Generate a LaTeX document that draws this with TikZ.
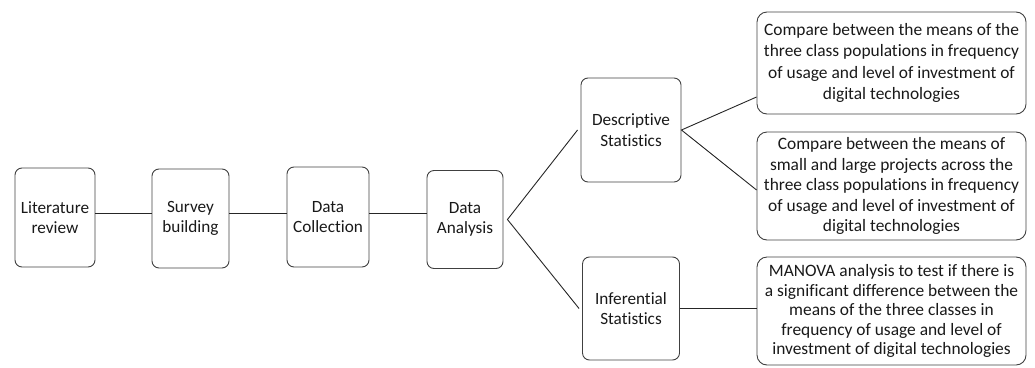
\documentclass[tikz,border=0pt]{standalone}
\usepackage{fontspec}
\setmainfont{Carlito}[Ligatures=NoCommon]
\begin{document}
\begin{tikzpicture}[x=1pt,y=-1pt,
  stage/.style={draw=black!75, line width=0.9pt, rounded corners=7pt, inner sep=0pt,
    align=center, text=black!90, font=\fontsize{17.2}{20.5}\selectfont},
  detail/.style={stage, rounded corners=10pt, minimum width=269pt},
  link/.style={draw=black!85, line width=0.9pt}]
  \useasboundingbox (0,0) rectangle (1035,367);

  % main process chain
  \node[stage, minimum width=80pt, minimum height=99pt]  (lit)      at (55,217.5)  {Literature\\review};
  \node[stage, minimum width=77pt, minimum height=99pt]  (survey)   at (190.5,218.5) {Survey\\building};
  \node[stage, minimum width=82pt, minimum height=100pt] (collect)  at (328,217)    {Data\\Collection};
  \node[stage, minimum width=76pt, minimum height=98pt]  (analysis) at (465,219.5)  {Data\\Analysis};

  % analysis types
  \node[stage, minimum width=100pt, minimum height=104pt] (desc) at (631,130)   {Descriptive\\Statistics};
  \node[stage, minimum width=97pt,  minimum height=103pt] (inf)  at (631,308.5) {Inferential\\Statistics};

  % analysis details
  \node[detail, minimum height=102pt, font=\fontsize{17.4}{21.5}\selectfont] (cmpA) at (891.5,63)
    {Compare between the means of the\\three class populations in frequency\\of usage and level of investment of\\digital technologies};
  \node[detail, minimum height=108pt, font=\fontsize{17.4}{20.5}\selectfont] (cmpB) at (891.5,186)
    {Compare between the means of\\small and large projects across the\\three class populations in frequency\\of usage and level of investment of\\digital technologies};
  \node[detail, minimum height=108pt, font=\fontsize{17.4}{19.5}\selectfont] (manova) at (891.5,311)
    {MANOVA analysis to test if there is\\a significant difference between the\\means of the three classes in\\frequency of usage and level of\\investment of digital technologies};

  % connectors
  \coordinate (row) at (0,213);
  \draw[link] (lit.east |- row) -- (survey.west |- row);
  \draw[link] (survey.east |- row) -- (collect.west |- row);
  \draw[link] (collect.east |- row) -- (analysis.west |- row);

  \coordinate (fork) at ([xshift=4pt]analysis.east);
  \draw[link] ([xshift=-3pt]desc.west) -- (fork) -- ([xshift=-3pt]inf.west);

  \draw[link] ([yshift=-34pt]cmpA.west) -- (desc.east) -- ([yshift=-4pt]cmpB.west);
  \draw[link] (inf.east) -- (manova.west |- inf.east);
\end{tikzpicture}
\end{document}
